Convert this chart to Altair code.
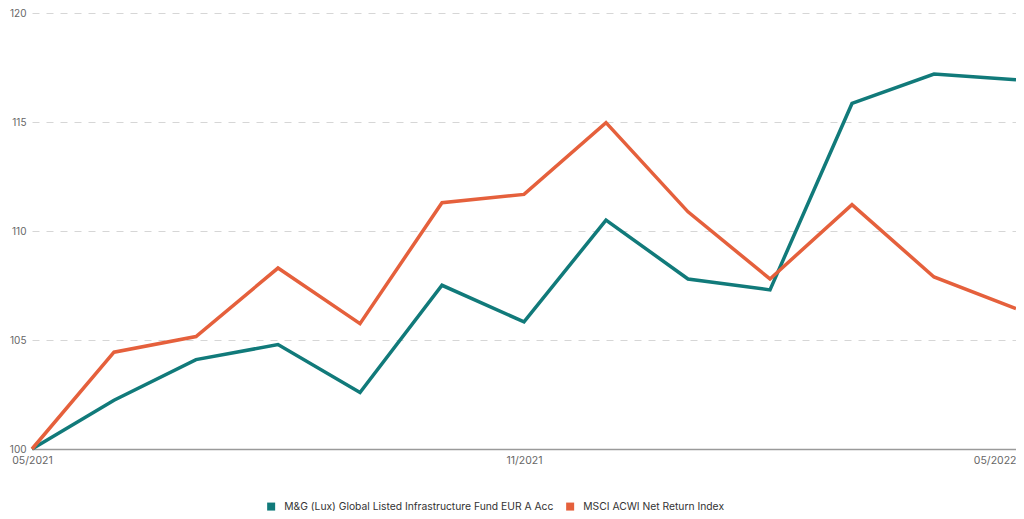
import altair as alt
import pandas as pd

months = ["05/2021", "06/2021", "07/2021", "08/2021", "09/2021", "10/2021", "11/2021",
          "12/2021", "01/2022", "02/2022", "03/2022", "04/2022", "05/2022"]
fund_name = "M&G (Lux) Global Listed Infrastructure Fund EUR A Acc"
index_name = "MSCI ACWI Net Return Index"
fund_values = [100.0, 102.24, 104.10, 104.79, 102.59, 107.51, 105.83, 110.50, 107.80, 107.30, 115.85, 117.20, 116.94]
index_values = [100.0, 104.44, 105.16, 108.30, 105.75, 111.30, 111.68, 114.97, 110.88, 107.80, 111.21, 107.89, 106.44]
x_tick_labels = ["05/2021", "11/2021", "05/2022"]
y_ticks = [100, 105, 110, 115, 120]

rows = []
for m, v in zip(months, fund_values):
    rows.append({"month": m, "value": v, "series": fund_name})
for m, v in zip(months, index_values):
    rows.append({"month": m, "value": v, "series": index_name})
df = pd.DataFrame(rows)

chart = alt.Chart(df).mark_line(strokeWidth=3.5, strokeJoin="miter", strokeCap="butt").encode(
    x=alt.X("month:O", sort=months, title=None,
            scale=alt.Scale(type="point", padding=0, domain=months),
            axis=alt.Axis(values=x_tick_labels, labelAngle=0, ticks=False, grid=False,
                          domain=True, domainColor="#9a9a9a", domainWidth=1.5,
                          labelColor="#666666", labelFontSize=10.5, labelPadding=6,
                          labelAlign={"expr": "datum.value == '05/2022' ? 'right' : 'center'"})),
    y=alt.Y("value:Q", title=None,
            scale=alt.Scale(domain=[100, 120], nice=False, zero=False),
            axis=alt.Axis(values=y_ticks, ticks=False, domain=False, grid=True,
                          gridDash=[7, 7], gridColor="#d6d6d6", gridWidth=1,
                          labelColor="#666666", labelFontSize=10, labelPadding=6)),
    color=alt.Color("series:N", sort=[fund_name, index_name], title=None,
                    scale=alt.Scale(domain=[fund_name, index_name], range=["#117a7a", "#e5603c"]),
                    legend=alt.Legend(orient="none", legendX=234, legendY=488,
                                      direction="horizontal", symbolType="square",
                                      symbolSize=4, symbolStrokeWidth=6, labelOffset=8,
                                      labelFontSize=10.3, labelColor="#333333",
                                      columnPadding=3, labelLimit=500)),
    order="series:N",
).properties(
    width=984, height=436,
    autosize=alt.AutoSizeParams(type="none"),
    padding={"left": 24, "top": 5, "right": 0, "bottom": 62},
).configure(
    font="Inter",
).configure_view(strokeWidth=0)

chart.save("out.html", embed_options={"renderer": "svg", "actions": False})
